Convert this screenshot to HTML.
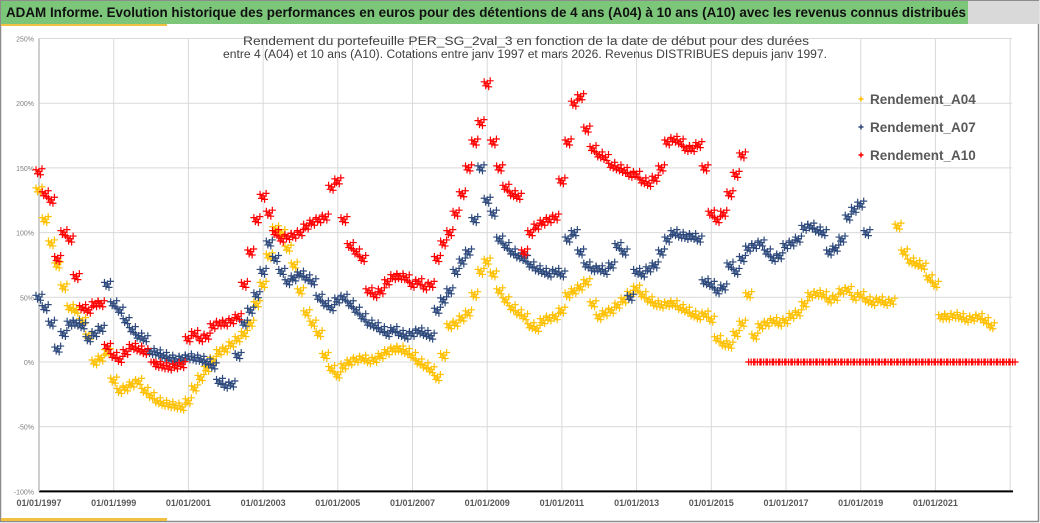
<!DOCTYPE html>
<html><head><meta charset="utf-8">
<style>
body{margin:0;background:#fff;}
#wrap{position:relative;width:1040px;height:523px;overflow:hidden;background:#fff;font-family:"Liberation Sans",sans-serif;}
</style></head>
<body>
<div id="wrap">
<svg id="chart" width="1040" height="523" xmlns="http://www.w3.org/2000/svg">
  <rect x="0" y="0" width="1040" height="523" fill="#fff"/>
  <rect x="0.5" y="0.5" width="1038" height="521" fill="none" stroke="#8c8c8c" stroke-width="1.5"/>
  <rect x="1" y="1" width="967" height="23" fill="#7cc67a"/>
  <rect x="968" y="1" width="71" height="23" fill="#d9d9d9"/>
  <text x="6" y="17" font-size="13.4" font-weight="bold" fill="#111" textLength="960" lengthAdjust="spacingAndGlyphs">ADAM Informe. Evolution historique des performances en euros pour des détentions de 4 ans (A04) à 10 ans (A10) avec les revenus connus distribués</text>
  <rect x="1" y="24" width="166" height="2" fill="#f0c040"/>
  <rect x="1" y="518" width="166" height="3" fill="#f0c040"/>
  <g id="grid"></g>
  <text x="526" y="45" text-anchor="middle" font-size="11.5" fill="#404040" textLength="566" lengthAdjust="spacingAndGlyphs">Rendement du portefeuille PER_SG_2val_3 en fonction de la date de début pour des durées</text>
  <text x="525" y="58" text-anchor="middle" font-size="11.5" fill="#404040" textLength="604" lengthAdjust="spacingAndGlyphs">entre 4 (A04) et 10 ans (A10). Cotations entre janv 1997 et mars 2026. Revenus DISTRIBUES depuis janv 1997.</text>
  <g id="marks"></g>
  <g id="legend"></g>
</svg>
</div>
<script>
const yTicks=[250,200,150,100,50,0,-50,-100];
const yTickLabels=["250%","200%","150%","100%","50%","0%","-50%","-100%"];
const xTickYears=[1997,1999,2001,2003,2005,2007,2009,2011,2013,2015,2017,2019,2021,2023];
const xTickLabels=["01/01/1997","01/01/1999","01/01/2001","01/01/2003","01/01/2005","01/01/2007","01/01/2009","01/01/2011","01/01/2013","01/01/2015","01/01/2017","01/01/2019","01/01/2021",""];
const seriesNames=["Rendement_A04","Rendement_A07","Rendement_A10"];
const startYear=1997;
const stepYears=1/6;
const A04=[133,110,92,75,58,42, 40,32,20,0,3,8, -14,-22,-20,-17,-15,-22, -26,-30,-32,-33,-34,-35,
 -30,-20,-12,-5,2,8, 10,14,18,22,30,45, 60,82,103,100,88,75, 55,38,30,22,5,-5,
 -10,-3,0,2,3,1, 2,5,8,10,10,8, 5,0,-3,-6,-12,5, 28,30,34,38,52,70,
 78,68,55,48,42,38, 35,28,26,32,34,35, 40,52,55,58,62,45, 35,38,40,44,48,53,
 57,52,48,45,44,45, 45,42,40,37,35,37, 33,18,14,13,22,30, 52,20,28,30,32,30,
 32,36,38,45,52,53, 52,48,50,55,56,50, 52,48,46,48,46,47, 105,85,78,76,74,65,
 60,35,35,36,35,33, 34,35,32,28];
const A07=[50,42,30,10,22,30, 30,28,18,22,26,60, 45,40,32,25,20,18, 8,7,5,3,2,3,
 4,3,2,0,-3,-15, -18,-17,5,30,40,52, 70,92,80,70,62,65, 68,65,62,50,45,42,
 48,50,45,40,35,30, 28,25,22,25,22,20, 22,24,22,20,40,48, 55,70,78,85,110,150,
 125,115,95,90,85,82, 80,75,72,70,68,70, 68,95,100,85,75,72, 72,70,75,90,85,50,
 70,68,72,75,85,95, 100,98,97,97,95,62, 60,55,58,75,70,80, 88,90,92,85,80,82,
 90,92,95,104,105,102, 100,85,88,95,112,118, 122,100];
const A10=[147,130,125,80,100,95, 66,42,40,45,45,12, 5,2,8,12,10,8, 0,-2,-3,-4,-3,-2,
 18,22,18,20,28,30, 30,32,35,60,85,110, 128,115,100,95,97,98, 100,105,108,110,112,135,
 140,110,90,85,80,55, 52,55,62,66,66,65, 60,62,58,60,80,92, 100,115,130,150,170,185,
 215,170,150,135,130,128, 85,100,105,108,110,112, 140,170,200,205,180,165, 160,158,152,150,148,145,
 145,140,138,142,150,170, 172,170,165,165,168,150, 115,110,115,130,145,160,
 0,0,0,0,0,0, 0,0,0,0,0,0, 0,0,0,0,0,0, 0,0,0,0,0,0, 0,0,0,0,0,0, 0,0,0,0,0,0, 0,0,0,0,0,0, 0];
const seriesColors=["#ffc000","#2e4a7d","#ff0000"];

const NS="http://www.w3.org/2000/svg";
const X0=39, PXYEAR=37.35, Y0=362, PXPCT=1.294;
function xOf(t){return X0+(t-1997)*PXYEAR;}
function yOf(v){return Y0-v*PXPCT;}
function mk(tag,attrs,parent){const e=document.createElementNS(NS,tag);for(const k in attrs)e.setAttribute(k,attrs[k]);parent.appendChild(e);return e;}

const grid=document.getElementById('grid');
yTicks.forEach((v,i)=>{
  const y=yOf(v);
  if(v!==-100){const l=mk('line',{x1:39,x2:1012,y1:y,y2:y,stroke:'#d9d9d9','stroke-width':1},grid);
    
    }
  const t=mk('text',{x:34,y:y+3,'text-anchor':'end','font-size':7,fill:'#7f7f7f'},grid);
  t.textContent=yTickLabels[i];
  
  
});
xTickYears.forEach((yr,i)=>{
  const x=xOf(yr);
  const l=mk('line',{x1:x,x2:x,y1:yOf(250),y2:yOf(-100),stroke:'#d9d9d9','stroke-width':1},grid);
  
  
  if(xTickLabels[i]){const t=mk('text',{x:x,y:506,'text-anchor':'middle','font-size':9,'font-weight':'bold',fill:'#595959'},grid);
  t.textContent=xTickLabels[i];
  
  }
});
const ax=mk('line',{x1:39,x2:1013,y1:yOf(-100),y2:yOf(-100),stroke:'#000','stroke-width':2},grid);


const lax=mk('line',{x1:39,x2:39,y1:yOf(250),y2:yOf(-100),stroke:'#bfbfbf','stroke-width':1.5},grid);



function plus(g,x,y,s,color,w){
  mk('path',{d:`M${x-s} ${y}H${x+s}M${x} ${y-s}V${y+s}`,stroke:color,'stroke-width':w||1.2,fill:'none'},g);
}
// each value drawn as a small spread of "+" to mimic the dense weekly scatter
const cluster=[[-3,-2],[-1.5,2],[0,-0.5],[1.5,3],[3,-3]];
const marks=document.getElementById('marks');
[A04,A07,A10].forEach((arr,si)=>{
  const g=mk('g',{},marks);
  
  
  arr.forEach((v,i)=>{
    if(v===null)return;
    const x=xOf(startYear+i*stepYears), y=yOf(v);
    if(si===2 && v===0){plus(g,x,y,3.5,seriesColors[si]);plus(g,x+2.5,y,3.5,seriesColors[si]);plus(g,x+5,y,3.5,seriesColors[si]);return;}
    cluster.forEach(c=>plus(g,x+c[0],y+c[1],3.5,seriesColors[si]));
  });
});
const leg=document.getElementById('legend');
seriesNames.forEach((n,i)=>{
  const g=mk('g',{},leg);
  
  
  const y=99+i*28;
  plus(g,861,y,2.5,seriesColors[i],1.5);
  const t=mk('text',{x:870,y:y+5,'font-size':13.5,'font-weight':'bold',fill:'#595959'},g);
  t.textContent=n;
});
</script>
</body></html>
